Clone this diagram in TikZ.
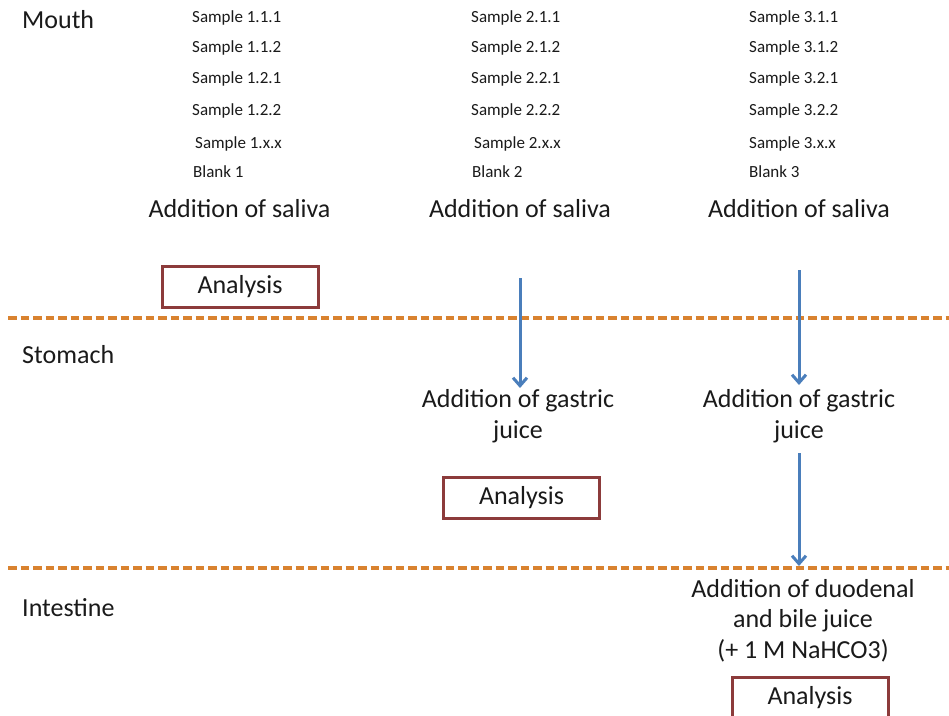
\documentclass[tikz,border=0pt]{standalone}
\usepackage{fontspec}
\setmainfont{Carlito}
\usetikzlibrary{arrows.meta}
\definecolor{boxred}{HTML}{8C3B3B}
\definecolor{sepor}{HTML}{D9822F}
\definecolor{arrblue}{HTML}{4A7EBB}
\definecolor{ink}{HTML}{1A1A1A}
\begin{document}
\begin{tikzpicture}[x=1pt,y=-1pt,
  txt/.style={inner sep=0pt, text=ink, font=\fontsize{26}{30.5}\selectfont, align=center},
  smp/.style={inner sep=0pt, anchor=base west, text=ink, font=\fontsize{17}{20}\selectfont},
  ana/.style={draw=boxred, line width=3pt, minimum width=156pt, minimum height=41pt, inner sep=0pt, text=ink, font=\fontsize{26}{30.5}\selectfont},
  sep/.style={draw=sepor, line width=3.2pt, dash pattern=on 8.5pt off 4pt},
  arr/.style={draw=arrblue, line width=3pt, -{Straight Barb[length=8pt,width=14pt]}}]
\useasboundingbox (0,0) rectangle (949,715);
\clip (0,0) rectangle (949,715);
\fill[white] (0,0) rectangle (949,715);

% separators
\coordinate (s1a) at (8,318);  \coordinate (s1b) at (949,318);
\coordinate (s2a) at (8,568);  \coordinate (s2b) at (949,568);
\draw[sep] (s1a) -- (s1b);
\draw[sep] (s2a) -- (s2b);

% section labels
\node[txt, anchor=base west] (mouth) at (22,28) {Mouth};
\node[txt, anchor=base west] (stomach) at (22,363) {Stomach};
\node[txt, anchor=base west] (intestine) at (22,616) {Intestine};

% samples
\node[smp] (s111) at (192,22) {Sample 1.1.1};
\node[smp] (s112) at (192,52) {Sample 1.1.2};
\node[smp] (s121) at (192,83) {Sample 1.2.1};
\node[smp] (s122) at (192,115) {Sample 1.2.2};
\node[smp] (s1xx) at (195,148) {Sample 1.x.x};
\node[smp] (b1) at (193,177) {Blank 1};

\node[smp] (s211) at (471,22) {Sample 2.1.1};
\node[smp] (s212) at (471,52) {Sample 2.1.2};
\node[smp] (s221) at (471,83) {Sample 2.2.1};
\node[smp] (s222) at (471,115) {Sample 2.2.2};
\node[smp] (s2xx) at (474,148) {Sample 2.x.x};
\node[smp] (b2) at (472,177) {Blank 2};

\node[smp] (s311) at (749,22) {Sample 3.1.1};
\node[smp] (s312) at (749,52) {Sample 3.1.2};
\node[smp] (s321) at (749,83) {Sample 3.2.1};
\node[smp] (s322) at (749,115) {Sample 3.2.2};
\node[smp] (s3xx) at (749,148) {Sample 3.x.x};
\node[smp] (b3) at (749,177) {Blank 3};

% saliva
\node[txt, anchor=base] (sal1) at (239.5,217) {Addition of saliva};
\node[txt, anchor=base] (sal2) at (520,217) {Addition of saliva};
\node[txt, anchor=base] (sal3) at (799,217) {Addition of saliva};

% analysis boxes
\node[ana] (an1) at (240,286.5) {Analysis};
\node[ana] (an2) at (521.5,498) {Analysis};
\node[ana] (an3) at (810,697.5) {Analysis};

% gastric (base anchor = last line)
\node[txt, anchor=base] (gas2) at (518,438) {Addition of gastric\\juice};
\node[txt, anchor=base] (gas3) at (799,438) {Addition of gastric\\juice};

% duodenal
\node[txt, anchor=base] (duo3) at (803,658) {Addition of duodenal\\and bile juice\\(+ 1 M NaHCO3)};

% arrows
\coordinate (a2s) at (520,278); \coordinate (a2e) at (520,388);
\coordinate (a3s) at (799,270); \coordinate (a3e) at (799,385);
\coordinate (a4s) at (799,453); \coordinate (a4e) at (799,566);
\draw[arr] (a2s) -- (a2e);
\draw[arr] (a3s) -- (a3e);
\draw[arr] (a4s) -- (a4e);
\end{tikzpicture}
\end{document}
